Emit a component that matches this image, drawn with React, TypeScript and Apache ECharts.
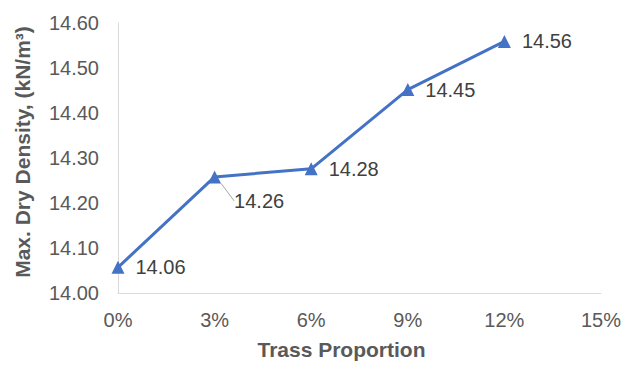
import React, { useEffect, useRef } from "react";
import * as echarts from "echarts";

const proportions = [0, 3, 6, 9, 12];
const densities = [14.057, 14.258, 14.276, 14.452, 14.559];
const valueLabels = ["14.06", "14.26", "14.28", "14.45", "14.56"];
const xTicks = [0, 3, 6, 9, 12, 15];
const yMin = 14.0;
const yMax = 14.6;
const xTitle = "Trass Proportion";
const yTitle = "Max. Dry Density, (kN/m³)";

export default function App() {
  const ref = useRef<HTMLDivElement>(null);
  useEffect(() => {
    if (!ref.current) return;
    const chart = echarts.init(ref.current, null, { renderer: "svg" });
    const font = "'Liberation Sans', Arial, Helvetica, sans-serif";
    chart.setOption({
      animation: false,
      backgroundColor: "#ffffff",
      grid: { left: 118, right: 22, top: 23, bottom: 67 },
      xAxis: {
        type: "value",
        min: xTicks[0],
        max: xTicks[xTicks.length - 1],
        interval: 3,
        name: xTitle,
        nameLocation: "middle",
        nameGap: 46,
        nameTextStyle: {
          fontFamily: font,
          fontWeight: "bold",
          fontSize: 21,
          color: "#595959",
          padding: [0, 36, 0, 0],
        },
        axisLine: { show: true, lineStyle: { color: "#d9d9d9", width: 1 } },
        axisTick: { show: false },
        splitLine: { show: false },
        axisLabel: {
          fontFamily: font,
          fontSize: 20,
          color: "#595959",
          margin: 17,
          formatter: (v: number) => `${v}%`,
        },
      },
      yAxis: {
        type: "value",
        min: yMin,
        max: yMax,
        interval: 0.1,
        name: yTitle,
        nameLocation: "middle",
        nameRotate: 90,
        nameGap: 85,
        nameTextStyle: {
          fontFamily: font,
          fontWeight: "bold",
          fontSize: 21,
          color: "#595959",
          padding: [0, 0, 0, 12],
        },
        axisLine: { show: true, lineStyle: { color: "#d9d9d9", width: 1 } },
        axisTick: { show: false },
        splitLine: { show: false },
        axisLabel: {
          fontFamily: font,
          fontSize: 20,
          color: "#595959",
          margin: 19,
          formatter: (v: number) => v.toFixed(2),
        },
      },
      series: [
        {
          type: "line",
          data: proportions.map((p, i) => ({
            value: [p, densities[i]],
            labelLine: { show: i === 1 },
          })),
          symbol: "triangle",
          symbolSize: 13,
          lineStyle: { color: "#4472C4", width: 3 },
          itemStyle: { color: "#4472C4" },
          label: {
            show: true,
            position: "right",
            distance: 11,
            fontFamily: font,
            fontSize: 20,
            color: "#404040",
            formatter: (p: any) => valueLabels[p.dataIndex],
          },
          labelLine: {
            show: false,
            lineStyle: { color: "#a6a6a6", width: 1 },
          },
          labelLayout: (p: any) =>
            p.dataIndex === 1 ? { dy: 24, dx: 2 } : {},
        },
      ],
    });
    return () => chart.dispose();
  }, []);
  return (
    <div
      ref={ref}
      style={{ position: "fixed", left: 0, top: 0, width: 624, height: 365 }}
    />
  );
}
